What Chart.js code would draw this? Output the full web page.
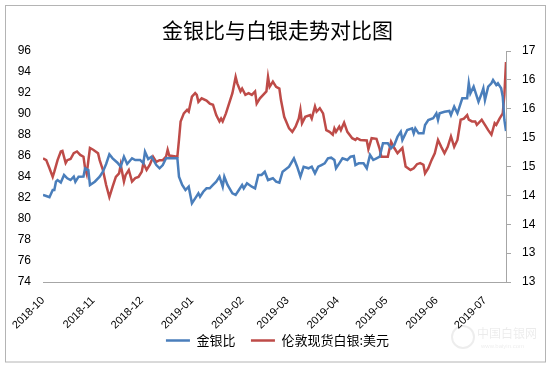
<!DOCTYPE html>
<html>
<head>
<meta charset="utf-8">
<script src="https://cdn.jsdelivr.net/npm/chart.js@4/dist/chart.umd.min.js"></script>
<style>
  body { margin: 0; background: #fff; }
</style>
</head>
<body>
<canvas id="chart" width="550" height="366"></canvas>
<script>
// x values are days counted from 2018-10-01
const monthStarts = [0, 31, 61, 92, 123, 151, 182, 212, 243, 273];
const monthLabels = ['2018-10', '2018-11', '2018-12', '2019-01', '2019-02', '2019-03', '2019-04', '2019-05', '2019-06', '2019-07'];

const ratioDays = [
  0, 2, 4, 6, 7, 8, 9, 11, 13, 15,
  17, 19, 20, 22, 25, 26, 28, 29, 32, 35,
  37, 39, 41, 43, 46, 48, 50, 52, 55, 57,
  60, 62, 63, 65, 67, 70, 72, 74, 76, 80,
  83, 84, 86, 88, 90, 92, 94, 96, 97, 99,
  101, 103, 105, 107, 109, 111, 112, 114, 117, 119,
  121, 123, 124, 126, 129, 131, 133, 135, 137, 139,
  142, 144, 146, 148, 152, 155, 157, 159, 161, 164,
  166, 168, 170, 172, 174, 176, 178, 180, 181, 183,
  185, 188, 190, 192, 193, 195, 198, 200, 202, 204,
  206, 208, 210, 213, 215, 217, 219, 221, 222, 225,
  228, 229, 230, 232, 235, 236, 238, 241, 243, 244,
  245, 248, 251, 252, 254, 256, 259, 262, 263, 264,
  266, 267, 269, 271, 272, 273, 275, 277, 278, 280,
  281, 283, 284, 285, 286
];
const goldSilverRatio = [
  82.29, 82.19, 82.07, 82.76, 82.76, 83.55, 83.71, 83.48, 84.19, 83.88,
  83.71, 84.03, 83.55, 84.03, 84.05, 84.83, 84.67, 83.24, 83.55, 84.03,
  84.50, 85.24, 86.16, 85.78, 85.36, 84.98, 85.93, 85.24, 85.78, 85.62,
  85.62, 85.30, 86.41, 85.71, 85.93, 85.14, 84.83, 85.14, 85.78, 85.78,
  85.78, 84.03, 83.24, 82.76, 83.08, 81.50, 81.97, 82.45, 82.12, 82.60,
  82.92, 82.92, 83.24, 83.55, 84.03, 83.08, 84.03, 83.24, 82.45, 82.29,
  82.76, 83.24, 82.92, 83.40, 83.08, 82.92, 84.19, 84.19, 84.50, 83.71,
  83.88, 83.55, 83.46, 84.50, 84.98, 85.78, 84.98, 84.03, 84.98, 84.83,
  84.98, 84.35, 84.98, 85.14, 85.30, 85.78, 85.84, 85.62, 84.83, 85.30,
  85.78, 85.62, 85.93, 86.00, 85.14, 85.30, 85.30, 84.83, 86.10, 85.62,
  85.78, 85.93, 87.21, 87.21, 86.73, 87.05, 87.84, 88.31, 87.52, 88.48,
  88.64, 88.16, 88.64, 88.16, 88.16, 88.95, 89.43, 89.59, 90.07, 89.43,
  90.07, 90.22, 90.29, 89.90, 90.70, 90.07, 91.50, 91.50, 92.92, 91.97,
  92.60, 92.12, 91.17, 91.97, 92.45, 91.33, 92.60, 92.92, 93.24, 92.76,
  92.92, 92.45, 91.65, 89.43, 88.38
];

const silverDays = [
  0, 2, 4, 6, 7, 9, 11, 12, 14, 15,
  17, 19, 21, 23, 25, 26, 27, 29, 31, 34,
  35, 37, 39, 41, 43, 45, 47, 48, 50, 51,
  53, 55, 57, 59, 61, 62, 64, 66, 68, 70,
  72, 74, 76, 77, 78, 83, 84, 85, 87, 89,
  90, 92, 94, 95, 96, 98, 101, 103, 105, 107,
  109, 110, 111, 113, 117, 119, 120, 122, 123, 125,
  127, 129, 131, 132, 134, 136, 138, 139, 140, 142,
  144, 146, 147, 149, 152, 154, 156, 158, 159, 160,
  162, 165, 166, 168, 169, 171, 173, 175, 177, 179,
  180, 181, 183, 184, 186, 188, 191, 193, 194, 196,
  200, 201, 203, 206, 208, 209, 213, 215, 217, 219,
  222, 224, 227, 229, 231, 233, 235, 236, 238, 240,
  242, 244, 246, 248, 250, 252, 254, 256, 258, 260,
  262, 263, 265, 267, 268, 271, 273, 275, 277, 279,
  280, 282, 284, 285, 286
];
const silverPrice = [
  14.94, 14.91, 14.77, 14.62, 14.71, 14.91, 15.06, 15.07, 14.86, 14.91,
  14.93, 15.03, 15.06, 15.00, 14.97, 14.77, 14.67, 15.12, 15.09, 15.03,
  14.91, 14.74, 14.48, 14.27, 14.45, 14.62, 14.68, 14.83, 14.54, 14.65,
  14.74, 14.54, 14.60, 14.62, 14.71, 14.86, 14.74, 14.83, 14.97, 14.88,
  14.91, 14.91, 14.97, 15.09, 14.99, 14.97, 15.26, 15.58, 15.72, 15.78,
  15.75, 16.01, 16.07, 16.04, 15.92, 15.98, 15.94, 15.89, 15.87, 15.69,
  15.58, 15.63, 15.58, 15.72, 16.07, 16.35, 16.24, 16.10, 16.15, 16.04,
  16.07, 16.04, 16.10, 15.89, 15.98, 16.04, 16.10, 16.35, 16.18, 16.27,
  16.18, 16.15, 15.95, 15.66, 15.46, 15.40, 15.49, 15.63, 15.78, 15.55,
  15.66, 15.69, 15.63, 15.84, 15.75, 15.81, 15.72, 15.43, 15.40, 15.35,
  15.46, 15.40, 15.49, 15.43, 15.56, 15.40, 15.29, 15.26, 15.29, 15.26,
  15.25, 15.10, 15.29, 15.28, 15.10, 14.97, 14.97, 15.23, 15.12, 15.03,
  15.12, 14.80, 14.74, 14.77, 14.84, 14.86, 14.83, 14.68, 14.77, 14.91,
  15.03, 15.26, 15.14, 15.03, 15.14, 15.32, 15.14, 15.26, 15.61, 15.63,
  15.69, 15.61, 15.58, 15.58, 15.52, 15.61, 15.52, 15.43, 15.35, 15.55,
  15.52, 15.63, 15.72, 16.04, 16.61
];

const toPoints = (days, values) => days.map((d, i) => ({ x: d, y: values[i] }));

const tickFont = { family: 'Liberation Sans', size: 12 };
const axisGrey = '#a6a6a6';

const frame = {
  id: 'frame',
  beforeLayout(chart) {
    // keep the legend strip at a fixed height
    const legend = chart.legend;
    if (legend && !legend._fixedFit) {
      const fit = legend.fit;
      legend.fit = function () { fit.call(this); this.height = 47.5; };
      legend._fixedFit = true;
    }
  },
  beforeDraw(chart) {
    const ctx = chart.ctx;
    ctx.save();
    ctx.fillStyle = '#fff';
    ctx.fillRect(0, 0, chart.width, chart.height);
    ctx.strokeStyle = '#b4b4b4';
    ctx.lineWidth = 1;
    ctx.strokeRect(5.5, 5.5, 540, 356.5);
    ctx.restore();
  },
  afterDraw(chart) {
    const ctx = chart.ctx;
    ctx.save();
    ctx.strokeStyle = 'rgba(0,0,0,0.07)';
    ctx.lineWidth = 2;
    ctx.beginPath();
    ctx.arc(463, 337, 11, 0, Math.PI * 2);
    ctx.stroke();
    ctx.fillStyle = 'rgba(0,0,0,0.08)';
    ctx.font = '12px "Noto Sans CJK SC"';
    ctx.textBaseline = 'middle';
    ctx.fillText('中国白银网', 477, 333);
    ctx.font = '6px "Liberation Sans"';
    ctx.fillText('www.baiyin.com', 481, 346);
    ctx.restore();
  }
};

new Chart(document.getElementById('chart'), {
  type: 'line',
  data: {
    datasets: [{
      label: '金银比',
      data: toPoints(ratioDays, goldSilverRatio),
      yAxisID: 'y',
      borderColor: '#4a7ebb',
      backgroundColor: '#4a7ebb',
      borderWidth: 2.5,
      pointRadius: 0,
      tension: 0
    }, {
      label: '伦敦现货白银:美元',
      data: toPoints(silverDays, silverPrice),
      yAxisID: 'y1',
      borderColor: '#be4b48',
      backgroundColor: '#be4b48',
      borderWidth: 2.5,
      pointRadius: 0,
      tension: 0
    }]
  },
  options: {
    responsive: false,
    animation: false,
    layout: { padding: { top: 8, left: 5, right: 0, bottom: 0 } },
    plugins: {
      title: {
        display: true,
        text: '金银比与白银走势对比图',
        color: '#000',
        font: { family: 'Noto Sans CJK SC', size: 21, weight: 'normal' },
        padding: { top: 9, bottom: 8.8 }
      },
      legend: {
        position: 'bottom',
        labels: {
          usePointStyle: true,
          pointStyle: 'line',
          pointStyleWidth: 24,
          padding: 15.5,
          color: '#000',
          font: { family: 'Noto Sans CJK SC', size: 13 }
        }
      },
      tooltip: { enabled: false }
    },
    scales: {
      x: {
        type: 'linear',
        min: 0,
        max: 286,
        grid: { display: false, drawTicks: false },
        border: { display: true, color: axisGrey },
        afterBuildTicks: scale => { scale.ticks = monthStarts.map(v => ({ value: v })); },
        afterFit: scale => {
          scale.height = 36.5;
          // the rotated labels run past the short axis box, so do not clip them
          scale._computeLabelArea = () => undefined;
        },
        ticks: {
          autoSkip: false,
          minRotation: 45,
          maxRotation: 45,
          padding: 12,
          color: '#000',
          font: { family: 'Liberation Sans', size: 11 },
          callback: v => monthLabels[monthStarts.indexOf(v)]
        }
      },
      y: {
        position: 'left',
        min: 74,
        max: 96,
        grid: { display: false, drawTicks: false },
        border: { display: false },
        afterFit: scale => { scale.width = 38; },
        ticks: { stepSize: 2, padding: 12, color: '#000', font: tickFont }
      },
      y1: {
        position: 'right',
        min: 12.8,
        max: 16.8,
        grid: { drawOnChartArea: false, tickLength: 5, color: axisGrey },
        border: { display: true, color: axisGrey },
        afterFit: scale => { scale.width = 44; },
        ticks: { stepSize: 0.5, padding: 11, color: '#000', font: tickFont, callback: v => Math.round(v) }
      }
    }
  },
  plugins: [frame]
});
</script>
</body>
</html>
